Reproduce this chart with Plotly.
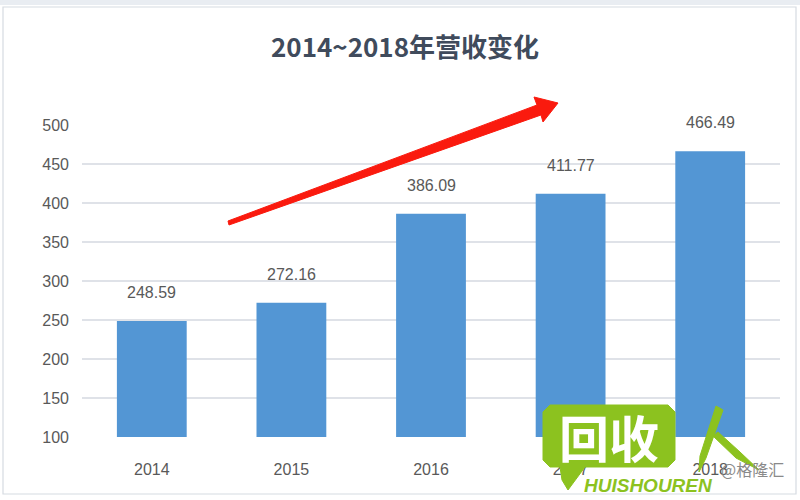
import plotly.graph_objects as go

years = ["2014", "2015", "2016", "2017", "2018"]
revenue = [248.59, 272.16, 386.09, 411.77, 466.49]
y_ticks = [100, 150, 200, 250, 300, 350, 400, 450, 500]
title_text = "2014~2018年营收变化"

W, H = 800, 500
L, R, T, B = 82, 20, 125, 63
PW, PH = W - L - R, H - T - B


def px(x):
    return (x - L) / PW


def py(y):
    return (H - B - y) / PH


fig = go.Figure()
fig.add_trace(go.Bar(
    x=years, y=revenue,
    marker=dict(color="#5396d4", line=dict(width=0)),
    hoverinfo="skip",
))

label_font = dict(family="Liberation Sans, Arial", size=16, color="#595959")
for i, v in enumerate(revenue):
    fig.add_annotation(x=i, y=v, text=f"{v:.2f}", showarrow=False,
                       xanchor="center", yanchor="bottom", yshift=18, font=label_font)

shapes = []
# outer frame and top band
shapes.append(dict(type="rect", xref="paper", yref="paper",
                   x0=px(0), x1=px(800), y0=py(5), y1=py(0),
                   fillcolor="#e9edf2", line=dict(width=0), layer="below"))
shapes.append(dict(type="rect", xref="paper", yref="paper",
                   x0=px(3), x1=px(796), y0=py(494), y1=py(7),
                   fillcolor="rgba(0,0,0,0)", line=dict(color="#d6dbe2", width=1.2),
                   layer="below"))


def path(points):
    return "M " + " L ".join(f"{px(a):.5f},{py(b):.5f}" for a, b in points) + " Z"


# red arrow
arrow_pts = [(228, 221), (537, 105), (534, 97), (558, 103), (543, 122), (541, 115), (229, 225)]
shapes.append(dict(type="path", xref="paper", yref="paper", path=path(arrow_pts),
                   fillcolor="#fa1a0e", line=dict(color="#fa1a0e", width=1), layer="above"))

green = "#8cc21f"
# logo speech box
logo_pts = [(550, 405), (668, 405), (675, 412), (675, 460), (668, 467), (585, 467),
            (568, 490), (562, 480), (560, 467), (550, 467), (543, 460), (543, 412)]
shapes.append(dict(type="path", xref="paper", yref="paper", path=path(logo_pts),
                   fillcolor=green, line=dict(color=green, width=1), layer="above"))
# "人" strokes
left_stroke = [(716, 406), (723, 410), (706, 458), (699, 472), (700, 456)]
right_stroke = [(713, 436), (718, 432), (740, 452), (759, 470), (736, 458)]
for pts in (left_stroke, right_stroke):
    shapes.append(dict(type="path", xref="paper", yref="paper", path=path(pts),
                       fillcolor=green, line=dict(color=green, width=1), layer="above"))

fig.update_layout(shapes=shapes)

fig.add_annotation(xref="paper", yref="paper", x=px(609), y=py(436), text="<b>回收</b>",
                   xanchor="center", yanchor="middle",
                   showarrow=False, font=dict(family="Noto Sans CJK SC", size=50, color="white"))
fig.add_annotation(xref="paper", yref="paper", x=px(648), y=py(486), text="<b><i>HUISHOUREN</i></b>",
                   xanchor="center", yanchor="middle",
                   showarrow=False, font=dict(family="Liberation Sans, Arial", size=19, color=green))
fig.add_annotation(xref="paper", yref="paper", x=px(752), y=py(469), text="@格隆汇",
                   xanchor="center", yanchor="middle",
                   showarrow=False, font=dict(family="Noto Sans CJK SC", size=16, color="#8a8a8a"))

fig.update_layout(
    width=W, height=H,
    margin=dict(l=L, r=R, t=T, b=B),
    paper_bgcolor="white", plot_bgcolor="white",
    showlegend=False,
    bargap=0.5,
    title=dict(text=f"<b>{title_text}</b>", x=405 / W, xref="container", xanchor="center",
               y=1 - 48 / H, yref="container", yanchor="middle",
               font=dict(family="Noto Sans CJK SC", size=26, color="#404b5c")),
    xaxis=dict(type="category", range=[-0.5, len(years) - 0.5], showgrid=False,
               showline=False, zeroline=False, automargin=False,
               ticks="", tickfont=label_font, ticklabelstandoff=21, fixedrange=True),
    yaxis=dict(range=[100, 500], tickvals=y_ticks, showgrid=True, gridcolor="#dfe2e8",
               gridwidth=1.6, zeroline=False, showline=False, ticks="", automargin=False,
               tickfont=label_font, ticklabelstandoff=12, fixedrange=True),
)

fig.write_html("out.html", config={"displayModeBar": False},
               post_script="document.body.style.margin='0';document.body.style.overflow='hidden';")
